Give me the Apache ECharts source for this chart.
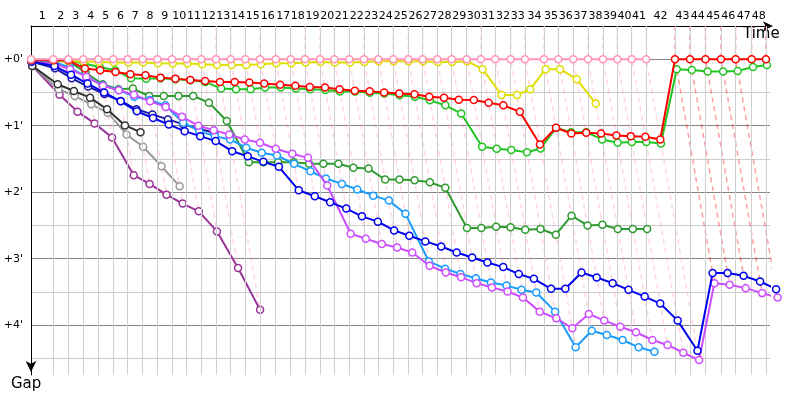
<!DOCTYPE html>
<html><head><meta charset="utf-8">
<script src="https://cdn.jsdelivr.net/npm/echarts@6/dist/echarts.min.js"></script>
<style>html,body{margin:0;padding:0;background:#fff}#c{width:800px;height:400px}</style>
</head><body><div id="c"></div>
<script>
// Leader lap durations (s), laps 1..48
const lapTimes = [114.4,76.9,76.9,76.9,77.0,73.8,76.9,74.9,75.4,75.4,74.8,75.4,75.4,74.9,75.4,80.5,76.9,73.3,77.0,73.3,76.9,75.4,73.3,76.9,77.0,73.8,74.9,73.8,77.0,73.3,73.3,79.0,73.3,97.5,73.3,76.9,75.4,76.9,73.4,73.8,74.4,147.7,76.9,79.5,79.5,75.3,82.1,73.3];
const lapLabels = Array.from({length:48},(_,i)=>String(i+1));
const yTickLabels = ["+0'","+1'","+2'","+3'","+4'"];

// Gaps to leader (s), index = lap (0 = start)
const gapPink = [0,0,0,0,0,0,0,0,0,0,0,0,0,0,0,0,0,0,0,0,0,0,0,0,0,0,0,0,0,0,0,0,0,0,0,0,0,0,0,0,0,0];
const gapYellow = [0.5,0.9,1.5,2.1,2.4,3,3,3,3.6,3.9,3.9,4.5,5.2,5.2,5.2,4.5,3.6,3.6,3,2.4,3,3,2.4,1.8,1.8,1.8,1.8,2.4,2.4,1.8,9,32.3,32.3,27,9,9,18,40];
const gapRed = [1,1,1,8.4,10,11.5,13.6,14.5,16.6,17.5,18.7,19.6,20.5,20.5,21,22,23,24,25,25.6,27,28.4,29,30,31,31.7,33.8,34.7,36.5,36.8,39.2,41.6,47.4,76.9,61.8,67,66.3,67,68.8,69.4,70,72.4,0,0,0,0,0,0,0];
const gapGreen = [1,1,1,3.9,7,10,17.2,17.5,17.2,18,19,20.5,26.5,27,27,25.6,25.6,26.5,27,27.8,29.2,29.2,30.2,31,32.6,33.8,37,41.6,49,79,80.8,82,83.9,80.5,62,65.8,65.8,72.4,75.4,74.8,74.8,76,9,9.7,11.1,11.1,10.6,7,5.2];
const gapDarkGreen = [1,1.5,2,12,22.6,27,26.5,33.2,33.2,33.2,33.2,39.2,55.8,93,93,93,93,94.4,94.4,94.4,98,98.6,108.6,108.6,109.2,111,116.1,152.3,152.3,151.1,151.7,153.8,153.2,158.4,141.2,150,149.4,153.2,153.2,153.2];
const gapBlue = [2,6,14,22,30,38,47,53,59,64.9,69.4,73.9,83,87.5,92.6,97.1,118.3,123.7,129.1,134.8,141.8,146.6,154.5,159.3,164.4,169,174.4,178.9,183.4,187.6,193.9,198.2,207.2,207.2,192.5,197,202.1,208.1,214.2,220.5,235.9,263.1,193,193,195.5,200.6,207.5];
const gapNavy = [2,8.1,17.2,24.7,31.4,37.7,45.2,49.8,54.3,58.8,62.7,66.3];
const gapCyan = [2.4,2.4,7.5,15.7,23.5,27.8,33.8,36.8,41.6,57.3,64.9,69.4,72.4,79.9,84.4,86.9,94.4,101.1,107.7,112.5,117.6,123.1,127.6,139.4,182.5,189,193.9,197.6,201.5,204.3,208.1,210.6,227.8,260,245,248.9,253.4,260,264];
const gapViolet = [2,4,9,15.7,24,28,32,38,43,52,60,64,67.9,72.4,75.4,80.8,85.3,89,114,157.5,162,166.8,169.9,174.4,186.4,192.5,196.7,202.1,206.1,209.7,215.1,227.8,233.8,242.8,229.9,235.9,241.4,246.4,253.4,257.9,264.9,271.5,202.1,203.6,206.6,211.1,215.1];
const gapBlack = [6,22.6,28.7,34.7,45.2,59.7,65.8];
const gapGray = [6,27.1,33.2,40.7,48.2,67.9,79,96.6,114.7];
const gapPurple = [6,32,47.3,57.9,70.6,104.7,112.5,122.2,130.3,137.3,155.4,188.5,226.2];

const drivers = [
  {gaps: gapPurple, color: '#993399'},
  {gaps: gapGray, color: '#999999'},
  {gaps: gapBlack, color: '#333333'},
  {gaps: gapDarkGreen, color: '#2f9a2f'},
  {gaps: gapNavy, color: '#1a1aa6'},
  {gaps: gapCyan, color: '#1a9cff'},
  {gaps: gapViolet, color: '#cc4dff'},
  {gaps: gapBlue, color: '#0000ee'},
  {gaps: gapGreen, color: '#22c422'},
  {gaps: gapYellow, color: '#dede00'},
  {gaps: gapRed, color: '#ff0000'},
  {gaps: gapPink, color: '#ff94b8'}
];

const X_MAX = 3790, Y_MIN = -30, Y_MAX = 285;
const T = [0];
lapTimes.forEach(d => T.push(T[T.length-1] + d));
const mids = lapTimes.map((d,i) => (T[i] + T[i+1]) / 2);

function hexA(hex, a){
  const n = parseInt(hex.slice(1),16);
  return 'rgba(' + (n>>16 & 255) + ',' + (n>>8 & 255) + ',' + (n & 255) + ',' + a + ')';
}

const series = [];
// vertical lap grid lines
series.push({
  type:'line', data:[], silent:true, z:0,
  markLine:{silent:true, symbol:['none','none'], label:{show:false}, animation:false,
    lineStyle:{color:'#cfcfcf', type:'solid', width:1},
    data: T.slice(1).map(t => ({xAxis: t}))}
});
// dashed lap lines (same-lap locus), coloured by lap leader
for (let k = 1; k < T.length; k++) {
  let gmax = 0, leader = null;
  drivers.forEach(d => {
    if (d.gaps.length > k) {
      gmax = Math.max(gmax, d.gaps[k]);
      if (d.gaps[k] === 0) leader = d.color;
    }
  });
  series.push({
    type:'line', silent:true, z:1, symbol:'none', clip:false, animation:false,
    lineStyle:{color: hexA(leader || '#ff94b8', 0.38), width:1.5, type:[5,4]},
    data: [[T[k], Y_MIN], [T[k], 0], [T[k] + gmax, gmax]]
  });
}
drivers.forEach((d, i) => {
  series.push({
    type:'line', silent:true, z:3 + i, clip:false, animation:false,
    symbol:'circle', symbolSize:7, showSymbol:true,
    lineStyle:{color:d.color, width:2},
    itemStyle:{color:'#ffffff', borderColor:d.color, borderWidth:1.5},
    data: d.gaps.map((g, k) => [T[k] + g, g])
  });
});

const chart = echarts.init(document.getElementById('c'), null, {renderer:'canvas'});
chart.setOption({
  animation:false,
  backgroundColor:'#ffffff',
  textStyle:{fontFamily:'DejaVu Sans'},
  grid:{left:31, right:30, top:26, bottom:25, containLabel:false},
  xAxis:{
    type:'value', position:'top', min:0, max:X_MAX,
    axisLine:{show:true, onZero:false, lineStyle:{color:'#000', width:1}, symbol:['none','arrow'], symbolSize:[7,10], symbolOffset:[0,3]},
    axisTick:{show:false}, splitLine:{show:false},
    axisLabel:{customValues: mids, hideOverlap:false, color:'#000', fontSize:11, margin:4,
      formatter: v => { let b = 0; mids.forEach((m,i)=>{ if (Math.abs(m - v) < Math.abs(mids[b] - v)) b = i; }); return lapLabels[b]; }}
  },
  yAxis:{
    type:'value', inverse:true, min:Y_MIN, max:Y_MAX, interval:30,
    axisLine:{show:true, onZero:false, lineStyle:{color:'#000', width:1}, symbol:['arrow','none'], symbolSize:[8,11], symbolOffset:[3,0]},
    axisTick:{show:false},
    axisLabel:{color:'#000', fontSize:11, margin:8,
      formatter: v => (v >= 0 && v % 60 === 0 && yTickLabels[v/60]) ? yTickLabels[v/60] : ''},
    splitLine:{show:true, showMaxLine:false, lineStyle:{color:['#cccccc','#858585'], width:1}}
  },
  graphic:[
    {type:'text', left:743, top:27, style:{text:'Time', fontSize:15, fill:'#000', fontFamily:'DejaVu Sans'}},
    {type:'text', left:11, top:377, style:{text:'Gap', fontSize:15, fill:'#000', fontFamily:'DejaVu Sans'}}
  ],
  series: series
});
</script></body></html>
